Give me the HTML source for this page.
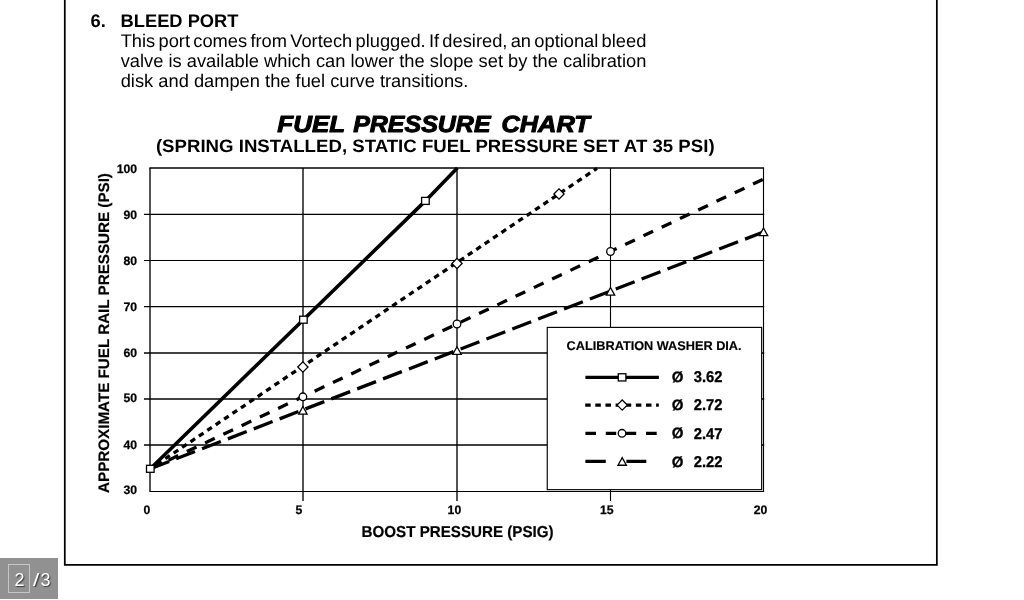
<!DOCTYPE html>
<html lang="en"><head><meta charset="utf-8"><title>Fuel Pressure Chart</title>
<style>
html,body{margin:0;padding:0;background:#fff;}
body{width:1024px;height:600px;overflow:hidden;position:relative;font-family:"Liberation Sans",sans-serif;}
svg{position:absolute;left:0;top:0;}
text{font-family:"Liberation Sans",sans-serif;fill:#000;text-rendering:geometricPrecision;}
.b{font-weight:bold;}
.tick{font-weight:bold;font-size:12.2px;stroke:#000;stroke-width:0.25px;}
.leg{font-weight:bold;font-size:15.7px;stroke:#000;stroke-width:0.3px;}
#pager{position:absolute;left:0;top:558px;width:58px;height:41px;background:#919191;color:#fff;font-size:18px;}
#pager .cur{position:absolute;left:8px;top:6px;width:22px;height:29px;border:1px solid #c6c6c6;box-sizing:border-box;}
#pager span span{position:absolute;top:8px;line-height:28px;text-shadow:1px 1px 1px rgba(0,0,0,.6);}
</style></head><body>
<svg width="1024" height="600" viewBox="0 0 1024 600">

<path d="M64.8 0 V564.85 H936.85 V0" fill="none" stroke="#000" stroke-width="1.75"/>
<text class="b" x="90.5" y="27" font-size="18.3">6.</text>
<text class="b" x="120.6" y="27" font-size="18.3">BLEED PORT</text>
<text x="120.7" y="47" font-size="18.3" word-spacing="-1.802">This port comes from Vortech plugged. If desired, an optional bleed</text>
<text x="120.7" y="67" font-size="18.3" word-spacing="0.027">valve is available which can lower the slope set by the calibration</text>
<text x="120.7" y="86.7" font-size="18.3" word-spacing="0.016">disk and dampen the fuel curve transitions.</text>
<text class="b" y="132.4" font-size="23.4" font-style="italic" stroke="#000" stroke-width="1.0" stroke-linejoin="round"><tspan x="277.3" textLength="67.5" lengthAdjust="spacingAndGlyphs">FUEL</tspan> <tspan x="353.2" textLength="137.35" lengthAdjust="spacingAndGlyphs">PRESSURE</tspan> <tspan x="501.4" textLength="88.4" lengthAdjust="spacingAndGlyphs">CHART</tspan></text>
<text class="b" transform="translate(155.9 151.8) scale(1.0415 1)" font-size="17.9">(SPRING INSTALLED, STATIC FUEL PRESSURE SET AT 35 PSI)</text>
<text class="b" transform="translate(361.6 537.4) scale(0.959 1)" font-size="15.8" stroke="#000" stroke-width="0.2">BOOST PRESSURE (PSIG)</text>
<text class="b" transform="translate(108.6 492.9) rotate(-90)" font-size="15.2" stroke="#000" stroke-width="0.2">APPROXIMATE FUEL RAIL PRESSURE (PSI)</text>
<path d="M149.40 491.50 H764.10" fill="none" stroke="#000" stroke-width="1.12"/>
<path d="M144.00 445.00 H764.20" fill="none" stroke="#000" stroke-width="1.35"/>
<path d="M144.00 399.00 H764.20" fill="none" stroke="#000" stroke-width="1.35"/>
<path d="M144.00 353.00 H764.20" fill="none" stroke="#000" stroke-width="1.35"/>
<path d="M144.00 306.60 H764.20" fill="none" stroke="#000" stroke-width="1.12"/>
<path d="M144.00 260.50 H764.20" fill="none" stroke="#000" stroke-width="1.12"/>
<path d="M144.00 214.40 H764.20" fill="none" stroke="#000" stroke-width="1.12"/>
<path d="M149.40 168.00 H764.10" fill="none" stroke="#000" stroke-width="1.35"/>
<path d="M150.00 168.00 V491.50" fill="none" stroke="#000" stroke-width="1.35"/>
<path d="M303.00 168.00 V501.00" fill="none" stroke="#000" stroke-width="1.35"/>
<path d="M457.00 168.00 V501.00" fill="none" stroke="#000" stroke-width="1.35"/>
<path d="M610.50 168.00 V501.00" fill="none" stroke="#000" stroke-width="1.12"/>
<path d="M763.50 168.00 V491.50" fill="none" stroke="#000" stroke-width="1.12"/>
<text class="tick" x="137.0" y="493.6" text-anchor="end">30</text>
<text class="tick" x="137.0" y="448.5" text-anchor="end">40</text>
<text class="tick" x="137.0" y="402.1" text-anchor="end">50</text>
<text class="tick" x="137.0" y="357.0" text-anchor="end">60</text>
<text class="tick" x="137.0" y="310.8" text-anchor="end">70</text>
<text class="tick" x="137.0" y="264.6" text-anchor="end">80</text>
<text class="tick" x="137.0" y="218.7" text-anchor="end">90</text>
<text class="tick" x="137.0" y="172.5" text-anchor="end">100</text>
<text class="tick" x="146.9" y="513.9" text-anchor="middle">0</text>
<text class="tick" x="299.0" y="513.9" text-anchor="middle">5</text>
<text class="tick" x="454.4" y="513.9" text-anchor="middle">10</text>
<text class="tick" x="606.8" y="513.9" text-anchor="middle">15</text>
<text class="tick" x="760.6" y="513.9" text-anchor="middle">20</text>
<path d="M150.3 468.8 L303.4 319.7 L425.4 200.9 L457.3 168" stroke="#000" stroke-width="3.6" stroke-linejoin="round" fill="none"/>
<path d="M150.3 468.8 L597 168.3" stroke="#000" stroke-width="3.3" fill="none" stroke-dasharray="5.5 4.63" stroke-dashoffset="2.2"/>
<path d="M150.3 468.8 L763.4 179.2" stroke="#000" stroke-width="3.3" fill="none" stroke-dasharray="10.7 9.5"/>
<path d="M150.3 468.8 L763.4 232" stroke="#000" stroke-width="3.3" fill="none" stroke-dasharray="20.2 7.52"/>
<rect x="146.50" y="465.30" width="7.6" height="7.0" fill="#fff" stroke="#000" stroke-width="1.3"/>
<rect x="299.60" y="316.20" width="7.6" height="7.0" fill="#fff" stroke="#000" stroke-width="1.3"/>
<rect x="421.60" y="197.40" width="7.6" height="7.0" fill="#fff" stroke="#000" stroke-width="1.3"/>
<path d="M297.79999999999995 367 L302.9 361.9 L308.0 367 L302.9 372.1 Z" fill="#fff" stroke="#000" stroke-width="1.3"/>
<path d="M451.9 263.5 L457 258.4 L462.1 263.5 L457 268.6 Z" fill="#fff" stroke="#000" stroke-width="1.3"/>
<path d="M553.9 194 L559 188.9 L564.1 194 L559 199.1 Z" fill="#fff" stroke="#000" stroke-width="1.3"/>
<circle cx="302.9" cy="396.8" r="3.8" fill="#fff" stroke="#000" stroke-width="1.3"/>
<circle cx="457" cy="324" r="3.8" fill="#fff" stroke="#000" stroke-width="1.3"/>
<circle cx="610.5" cy="251.5" r="3.8" fill="#fff" stroke="#000" stroke-width="1.3"/>
<path d="M298.7 414.08 L302.9 406.52000000000004 L307.09999999999997 414.08 Z" fill="#fff" stroke="#000" stroke-width="1.3"/>
<path d="M452.8 354.28 L457 346.72 L461.2 354.28 Z" fill="#fff" stroke="#000" stroke-width="1.3"/>
<path d="M606.3 295.08 L610.5 287.52000000000004 L614.7 295.08 Z" fill="#fff" stroke="#000" stroke-width="1.3"/>
<path d="M759.3 235.58 L763.5 228.02 L767.7 235.58 Z" fill="#fff" stroke="#000" stroke-width="1.3"/>
<rect x="547.25" y="327.4" width="214.4" height="162.25" fill="#fff" stroke="#000" stroke-width="1.15"/>
<text class="b" x="566.6" y="350.1" font-size="12.72" stroke="#000" stroke-width="0.15">CALIBRATION WASHER DIA.</text>
<text class="leg" y="382.0"><tspan x="671.7" dy="-0.3" font-size="15">Ø</tspan> <tspan x="693.7" dy="0.3" textLength="28.72" lengthAdjust="spacingAndGlyphs">3.62</tspan></text>
<text class="leg" y="410.3"><tspan x="671.7" dy="-0.3" font-size="15">Ø</tspan> <tspan x="693.7" dy="0.3" textLength="28.72" lengthAdjust="spacingAndGlyphs">2.72</tspan></text>
<text class="leg" y="438.7"><tspan x="671.7" dy="-0.3" font-size="15">Ø</tspan> <tspan x="693.7" dy="0.3" textLength="28.72" lengthAdjust="spacingAndGlyphs">2.47</tspan></text>
<text class="leg" y="467.0"><tspan x="671.7" dy="-0.3" font-size="15">Ø</tspan> <tspan x="693.7" dy="0.3" textLength="28.72" lengthAdjust="spacingAndGlyphs">2.22</tspan></text>
<path d="M585.4 377.35 H658.9" stroke="#000" stroke-width="3.3" fill="none"/>
<rect x="618.30" y="373.75" width="7.6" height="7.2" fill="#fff" stroke="#000" stroke-width="1.3"/>
<path d="M585.2 405.1 H658.8" stroke="#000" stroke-width="3.3" fill="none" stroke-dasharray="5.5 4.63"/>
<path d="M617.1 405.1 L622.2 400.0 L627.3000000000001 405.1 L622.2 410.20000000000005 Z" fill="#fff" stroke="#000" stroke-width="1.3"/>
<path d="M585.4 433.3 H596 M605.8 433.3 H616.2 M626 433.3 H636.2 M646 433.3 H656.7" stroke="#000" stroke-width="3.3" fill="none"/>
<circle cx="622.0" cy="433.3" r="3.8" fill="#fff" stroke="#000" stroke-width="1.3"/>
<path d="M585.4 461.3 H605.8 M626.4 461.3 H646.3" stroke="#000" stroke-width="3.3" fill="none"/>
<path d="M618.0 465.22999999999996 L622.2 457.67 L626.4000000000001 465.22999999999996 Z" fill="#fff" stroke="#000" stroke-width="1.3"/>
</svg>
<div id="pager"><span class="cur"></span><span class="txt"><span style="left:14.4px">2</span><span style="left:33.4px;transform:scaleX(1.25);transform-origin:0 0">/</span><span style="left:40.4px">3</span></span></div>
</body></html>
